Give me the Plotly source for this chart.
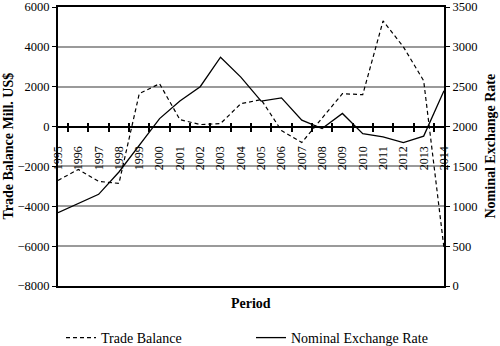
import plotly.graph_objects as go

years = [str(y) for y in range(1995, 2015)]
trade_balance = [-2700, -2150, -2750, -2850, 1650, 2150, 350, 100, 150, 1150,
                 1350, -200, -800, 400, 1650, 1600, 5300, 4000, 2300, -6100]
exchange_rate = [920, 1040, 1150, 1430, 1760, 2100, 2320, 2500, 2870, 2620,
                 2320, 2360, 2080, 1975, 2165, 1910, 1870, 1800, 1880, 2450]

left_range = [-8000, 6000]
right_range = [0, 3500]

FONT = "Liberation Serif, Times New Roman, serif"
zero_pos = (0 - left_range[0]) / (left_range[1] - left_range[0])

fig = go.Figure()
fig.add_trace(go.Scatter(x=years, y=trade_balance, mode="lines", name="Trade Balance",
                         line=dict(color="black", width=1.2, dash="4px,3px"),
                         xaxis="x", yaxis="y"))
fig.add_trace(go.Scatter(x=years, y=exchange_rate, mode="lines", name="Nominal Exchange Rate",
                         line=dict(color="black", width=1.3),
                         xaxis="x", yaxis="y2"))

fig.update_layout(
    width=500, height=346,
    margin=dict(l=58, r=56, t=7, b=60, autoexpand=False),
    paper_bgcolor="white", plot_bgcolor="white",
    font=dict(family=FONT, size=12, color="black"),
    showlegend=True,
    legend=dict(orientation="h", x=0.5, xanchor="center",
                yref="container", y=(346 - 338) / 346, yanchor="middle",
                font=dict(family=FONT, size=14), entrywidth=145, entrywidthmode="pixels"),
    xaxis=dict(type="category", anchor="free", position=zero_pos, automargin=False,
               showline=True, linecolor="black", linewidth=2,
               ticks="outside", ticklen=4, tickwidth=1.5, tickcolor="black",
               tickson="boundaries", tickangle=-90, showgrid=False, zeroline=False,
               ticklabelstandoff=14,
               tickfont=dict(family=FONT, size=12)),
    xaxis2=dict(type="category", overlaying="x", matches="x", anchor="free", position=zero_pos,
                automargin=False,
                showline=False, ticks="inside", ticklen=4, tickwidth=1.5, tickcolor="black",
                tickson="boundaries", showticklabels=False, showgrid=False, zeroline=False),
    xaxis3=dict(type="category", overlaying="x", matches="x", anchor="y", automargin=False,
                showline=True, mirror=True, linecolor="black", linewidth=2,
                ticks="", showticklabels=False, showgrid=False, zeroline=False),
    yaxis=dict(range=left_range, dtick=2000, tick0=0, automargin=False,
               showline=True, linecolor="black", linewidth=2,
               ticks="outside", ticklen=4, tickcolor="black", showgrid=True,
               gridcolor="#9a9a9a", gridwidth=1.5, zeroline=False,
               tickfont=dict(family=FONT, size=12.5)),
    yaxis2=dict(range=right_range, dtick=500, tick0=0, overlaying="y", side="right",
                automargin=False,
                showline=True, linecolor="black", linewidth=2,
                ticks="outside", ticklen=4, tickcolor="black", showgrid=False, zeroline=False,
                tickfont=dict(family=FONT, size=12.5)),
)

# helper traces so xaxis2/xaxis3 are drawn
fig.add_trace(go.Scatter(x=years, y=[None] * len(years), xaxis="x2", yaxis="y",
                         showlegend=False, hoverinfo="skip"))
fig.add_trace(go.Scatter(x=years, y=[None] * len(years), xaxis="x3", yaxis="y",
                         showlegend=False, hoverinfo="skip"))

fig.add_annotation(text="<b>Trade Balance Mill. US$</b>", xref="paper", yref="paper",
                   x=-50 / 386, y=0.5, xanchor="center", yanchor="middle", textangle=-90,
                   showarrow=False, font=dict(family=FONT, size=14))
fig.add_annotation(text="<b>Nominal Exchange Rate</b>", xref="paper", yref="paper",
                   x=1 + 46 / 386, y=0.5, xanchor="center", yanchor="middle", textangle=-90,
                   showarrow=False, font=dict(family=FONT, size=14))
fig.add_annotation(text="<b>Period</b>", xref="paper", yref="paper",
                   x=0.5, y=-17 / 279, xanchor="center", yanchor="middle",
                   showarrow=False, font=dict(family=FONT, size=14))

fig.write_html("out.html")
